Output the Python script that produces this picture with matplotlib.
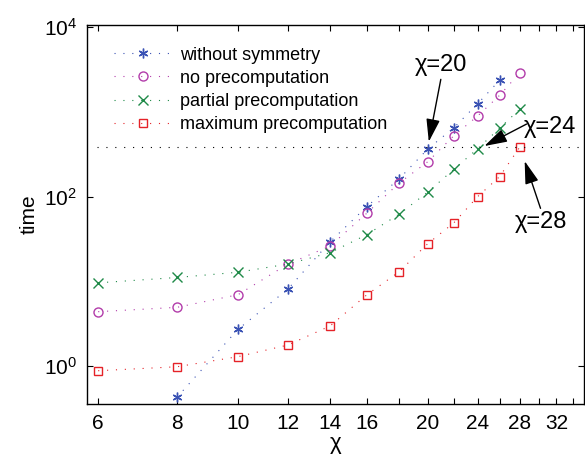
import numpy as np
import matplotlib
matplotlib.use("Agg")
import matplotlib.pyplot as plt
from matplotlib.ticker import FixedLocator, NullLocator, FixedFormatter

plt.rcParams['font.family'] = ['Liberation Sans', 'DejaVu Sans']
plt.rcParams['mathtext.default'] = 'regular'

# bond dimension chi
chi = [6, 8, 10, 12, 14, 16, 18, 20, 22, 24, 26, 28]
chi_nosym = [8, 10, 12, 14, 16, 18, 20, 22, 24, 26]

# timings
t_nosym = [0.427, 2.71, 8.1, 29.3, 76, 161, 365, 650, 1250, 2360]
t_noprec = [4.38, 4.93, 6.95, 16.0, 26.1, 63.5, 144, 258, 524, 895, 1570, 2900]
t_partial = [9.6, 11.1, 12.8, 16.0, 21.8, 35.5, 61.8, 113, 210, 368, 640, 1082]
t_maxprec = [0.88, 0.98, 1.29, 1.77, 2.97, 6.9, 12.9, 27.8, 49, 100, 172, 385]

limit_time = 385

xticks = [6, 8, 10, 12, 14, 16, 18, 20, 22, 24, 26, 28, 30, 32, 34]
xticklabels = ['6', '8', '10', '12', '14', '16', '', '20', '', '24', '', '28', '', '32', '']

dots = (0, (1, 7))

fig = plt.figure(figsize=(5.85, 4.57), dpi=100)
ax = fig.add_axes([87/585, 1-404/457, 497/585, 379/457])

ax.plot(chi_nosym, t_nosym, linestyle=dots, lw=0.8, color='#3a52b4',
        marker=(6, 2, 0), ms=7, mew=1.0, label='without symmetry')
ax.plot(chi, t_noprec, linestyle=dots, lw=0.8, color='#b23caa',
        marker='o', ms=6.5, mfc='none', mew=1.0, label='no precomputation')
ax.plot(chi, t_partial, linestyle=dots, lw=0.8, color='#1f8a48',
        marker='x', ms=6.5, mew=1.0, label='partial precomputation')
ax.plot(chi, t_maxprec, linestyle=dots, lw=0.8, color='#e52228',
        marker='s', ms=5.5, mfc='none', mew=1.0, label='maximum precomputation')

ax.axhline(limit_time, xmin=0.02, color='k', linestyle=dots, lw=0.8)

ax.set_xscale('log')
ax.set_yscale('log')
ax.set_xlim(5.76, 35.4)
ax.set_ylim(0.356, 10640)

ax.xaxis.set_major_locator(FixedLocator(xticks))
ax.xaxis.set_major_formatter(FixedFormatter(xticklabels))
ax.xaxis.set_minor_locator(NullLocator())
ax.yaxis.set_major_locator(FixedLocator([1, 100, 10000]))
ax.yaxis.set_minor_locator(NullLocator())
ax.set_yticklabels(['$10^0$', '$10^2$', '$10^4$'])

ax.tick_params(direction='in', top=True, right=True, length=4, width=0.8,
               labelsize=15, pad=7)
for s in ax.spines.values():
    s.set_linewidth(1.0)

ax.set_xlabel('χ', fontsize=16, labelpad=0)
ax.set_ylabel('time', fontsize=15, labelpad=4)

ax.legend(loc='upper left', bbox_to_anchor=(0.04, 0.962), frameon=False,
          fontsize=13, numpoints=1, handlelength=3.2, handletextpad=0.45,
          labelspacing=0.34, borderaxespad=0)

arrow = dict(arrowstyle='-|>,head_length=1.0,head_width=0.3', color='k',
             lw=1.0, mutation_scale=14, shrinkA=0, shrinkB=0)
ax.annotate('', xy=(20.08, 445), xytext=(20.98, 2427), arrowprops=arrow)
ax.text(20.98, 3580, 'χ=20', fontsize=17, ha='center', va='center')
ax.annotate('', xy=(24.6, 396), xytext=(28.7, 720), arrowprops=arrow)
ax.text(31.3, 663, 'χ=24', fontsize=17, ha='center', va='center')
ax.annotate('', xy=(28.5, 263), xytext=(30.2, 72.8), arrowprops=arrow)
ax.text(30.2, 50, 'χ=28', fontsize=17, ha='center', va='center')

fig.savefig('out.png', dpi=100)
